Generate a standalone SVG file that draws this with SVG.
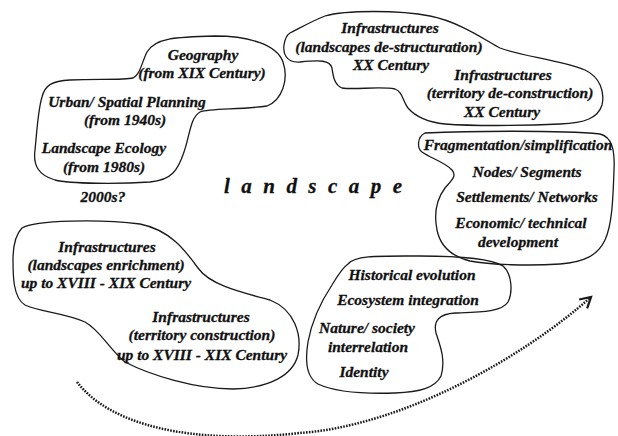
<svg xmlns="http://www.w3.org/2000/svg" width="618" height="436" viewBox="0 0 618 436">
<style>
.blob{fill:none;stroke:#1a1a1a;stroke-width:1.3}
.t{font-family:"Liberation Serif","Times New Roman",serif;font-weight:bold;font-style:italic;font-size:15.5px;fill:#111;stroke:#111;stroke-width:0.3;text-anchor:middle}
.big{font-family:"Liberation Serif","Times New Roman",serif;font-weight:bold;font-style:italic;font-size:21px;fill:#111;stroke:#111;stroke-width:0.3}
.dots{fill:none;stroke:#1a1a1a;stroke-width:2.5;stroke-dasharray:1.6 1.3}
</style>
<defs>
<marker id="arr" viewBox="0 0 10 10" refX="8" refY="5" markerWidth="6" markerHeight="6" orient="auto" markerUnits="strokeWidth">
<path d="M1,1 L8,5 L1,9" fill="none" stroke="#1a1a1a" stroke-width="1.5"/>
</marker>
</defs>
<rect width="618" height="436" fill="#fff"/>
<g id="node-history">
<path class="blob" d="M147,52 C155,38 175,37 215,36 C250,36 277,45 283,62 C289,80 282,100 267,106 C240,110 210,108 200,112 C190,118 190,135 184,152 C178,170 172,180 150,182 C120,184 70,184 55,180 C38,175 33,165 35,150 C37,130 38,110 42,97 C45,85 52,81 70,80 C100,79 125,80 133,78 C140,75 142,62 147,52 Z"/>
<text class="t" x="203" y="60">Geography</text>
<text class="t" x="202" y="78">(from XIX Century)</text>
<text class="t" x="127" y="107">Urban/ Spatial Planning</text>
<text class="t" x="125" y="125">(from 1940s)</text>
<text class="t" x="104" y="153">Landscape Ecology</text>
<text class="t" x="104" y="172">(from 1980s)</text>
</g>
<g id="node-2000s">
<text class="t" x="103" y="202">2000s?</text>
</g>
<g id="node-landscape">
<text class="big" x="224" y="193" textLength="178" lengthAdjust="spacing">l a n d s c a p e</text>
</g>
<g id="node-xx">
<path class="blob" d="M290,33 C300,28 310,22 325,16 C345,10 400,10 430,16 C460,22 485,40 500,48 C520,56 560,60 585,70 C600,77 605,92 602,105 C598,118 585,123 560,124 C520,126 470,126 445,124 C425,122 415,116 408,108 C402,100 403,92 395,89 C380,86 355,90 342,88 C334,85 333,75 332,68 C330,60 320,60 300,62 C285,63 283,52 284,45 C285,38 287,35 290,33 Z"/>
<text class="t" x="390" y="33">Infrastructures</text>
<text class="t" x="389" y="52">(landscapes de-structuration)</text>
<text class="t" x="391" y="70">XX Century</text>
<text class="t" x="503" y="80">Infrastructures</text>
<text class="t" x="510" y="98">(territory de-construction)</text>
<text class="t" x="502" y="117">XX Century</text>
</g>
<g id="node-fragmentation">
<path class="blob" d="M425,133 C470,131 560,130 600,134 C612,137 615,150 614,170 C613,200 612,225 605,240 C598,255 585,262 560,264 C530,266 490,265 470,261 C450,256 440,245 437,230 C434,215 436,200 445,188 C452,180 457,176 452,170 C445,162 430,158 422,152 C417,148 417,137 425,133 Z"/>
<text class="t" x="518" y="150">Fragmentation/simplification</text>
<text class="t" x="527" y="177">Nodes/ Segments</text>
<text class="t" x="527" y="202">Settlements/ Networks</text>
<text class="t" x="521" y="228">Economic/ technical</text>
<text class="t" x="518" y="247">development</text>
</g>
<g id="node-enrichment">
<path class="blob" d="M22,228 C35,220 100,219 140,224 C170,230 185,250 198,268 C210,285 240,292 270,300 C295,310 302,335 298,355 C293,375 270,388 233,389 C195,389 150,375 125,362 C110,350 100,330 85,322 C65,313 40,312 25,305 C13,298 13,275 13,260 C13,245 15,235 22,228 Z"/>
<text class="t" x="107" y="252">Infrastructures</text>
<text class="t" x="106" y="270">(landscapes enrichment)</text>
<text class="t" x="106" y="288">up to XVIII - XIX Century</text>
<text class="t" x="201" y="322">Infrastructures</text>
<text class="t" x="202" y="340">(territory construction)</text>
<text class="t" x="202" y="360">up to XVIII - XIX Century</text>
</g>
<g id="node-values">
<path class="blob" d="M348,264 C355,255 380,256 420,256 C460,256 490,258 503,266 C512,274 513,292 508,302 C502,312 480,312 455,313 C440,314 433,320 436,333 C440,345 446,360 441,376 C435,388 420,392 395,393 C365,394 335,392 318,384 C306,377 305,360 308,342 C312,320 322,300 332,285 C338,275 342,268 348,264 Z"/>
<text class="t" x="412" y="280">Historical evolution</text>
<text class="t" x="408" y="305">Ecosystem integration</text>
<text class="t" x="367" y="333">Nature/ society</text>
<text class="t" x="368" y="352">interrelation</text>
<text class="t" x="364" y="377">Identity</text>
</g>
<g id="connectors">
<path class="dots" d="M77,382 C110,425 190,445 300,433 C400,426 520,360 591,297" marker-end="url(#arr)"/>
</g>
</svg>
